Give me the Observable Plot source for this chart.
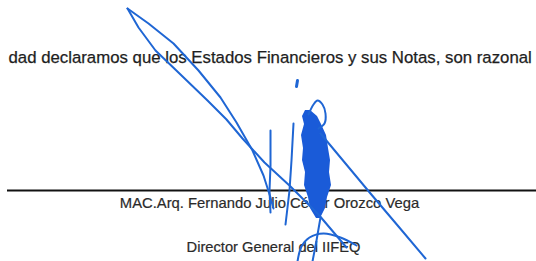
<!DOCTYPE html>
<html>
<head>
<meta charset="utf-8">
<script src="https://cdn.jsdelivr.net/npm/d3@7"></script>
<script src="https://cdn.jsdelivr.net/npm/@observablehq/plot@0.6"></script>
<style>
  html, body { margin: 0; padding: 0; background: #fff; }
  #chart svg { display: block; }
</style>
</head>
<body>
<div id="chart"></div>
<script>
// Text lines of the document
const textLines = ["dad declaramos que los Estados Financieros y sus Notas, son razonal"];
const signerNames = ["MAC.Arq. Fernando Julio César Orozco Vega"];
const signerTitles = ["Director General del IIFEQ"];

// Signature line (page coordinates)
const signLineY = [190];
const signLineX = [7, 536];

// Signature strokes (straight-ish): each a list of [x, y] points
const strokeLoopA = [[127,8],[148,23],[173,43],[198,70],[220,97],[236,122],[252,150],[263,175],[270,197],[273,208]];
const strokeLoopB = [[127,8],[138,27],[155,50],[180,74],[207,100],[226,119],[242,138],[264,162],[290,186],[318,214],[346,247]];
const strokeVert1 = [[270,130],[270,165],[269,190],[270,212]];
const strokeVert2 = [[293,123],[291,160],[289,190],[285,224]];
const strokeRight = [[320,133],[345,163],[370,193],[398,226],[425,258]];
const strokeDown = [[320,217],[316,240],[312,261]];
// Curved strokes
const strokeHook = [[308,114],[313,104],[317,100],[322,104],[325,113],[324,123],[318,128]];
const strokeCurve = [[297,261],[301,246],[309,237],[323,233],[340,237],[356,245]];
const strokeDot = [[297,80],[296,86]];

// Dense inked part of the signature (rows: y, left x, right x)
const fillY =     [110, 116, 124, 135, 148, 160, 172, 185, 197, 208, 218];
const fillLeft =  [305, 302, 304, 301, 303, 302, 305, 304, 308, 310, 316];
const fillRight = [310, 317, 321, 326, 328, 330, 329, 331, 327, 325, 320];

const flatten = list => list.flatMap((s, i) => s.map(([x, y]) => ({id: i, x, y})));
const straightData = flatten([strokeLoopA, strokeLoopB, strokeVert1, strokeVert2, strokeRight, strokeDown]);
const curvedData = flatten([strokeHook, strokeCurve]);
const dotData = strokeDot.map(([x, y]) => ({x, y}));
const fillData = fillY.map((y, i) => ({y, x1: fillLeft[i], x2: fillRight[i]}));

const ink = "#1f66d4";
const font = "'Liberation Sans', Arial, sans-serif";
const textInk = "#1e1e1e";

const chart = Plot.plot({
  width: 536,
  height: 261,
  margin: 0,
  style: {background: "#fff", fontFamily: font},
  x: {domain: [0, 536], range: [0, 536], axis: null},
  y: {domain: [0, 261], range: [0, 261], axis: null},
  marks: [
    Plot.text(textLines, {x: 8, y: 57, text: d => d, textAnchor: "start", fontSize: 16.8, fill: textInk, stroke: textInk, strokeWidth: 0.25, fontFamily: font}),
    Plot.ruleY(signLineY, {x1: signLineX[0], x2: signLineX[1], stroke: "#111", strokeWidth: 2}),
    Plot.text(signerNames, {x: 269, y: 203, text: d => d, textAnchor: "middle", fontSize: 14.8, fill: "#2a2a2a", stroke: "#2a2a2a", strokeWidth: 0.2, fontFamily: font}),
    Plot.text(signerTitles, {x: 273, y: 247, text: d => d, textAnchor: "middle", fontSize: 14.7, fill: "#2a2a2a", stroke: "#2a2a2a", strokeWidth: 0.2, fontFamily: font}),
    Plot.areaX(fillData, {y: "y", x1: "x1", x2: "x2", fill: "#1a5bd8", curve: "linear"}),
    Plot.line(straightData, {x: "x", y: "y", z: "id", stroke: ink, strokeWidth: 2, curve: "linear", strokeLinejoin: "round", strokeLinecap: "round"}),
    Plot.line(curvedData, {x: "x", y: "y", z: "id", stroke: ink, strokeWidth: 2, curve: "catmull-rom", strokeLinecap: "round"}),
    Plot.line(dotData, {x: "x", y: "y", stroke: ink, strokeWidth: 3, strokeLinecap: "round"})
  ]
});
document.getElementById("chart").appendChild(chart);
</script>
</body>
</html>
